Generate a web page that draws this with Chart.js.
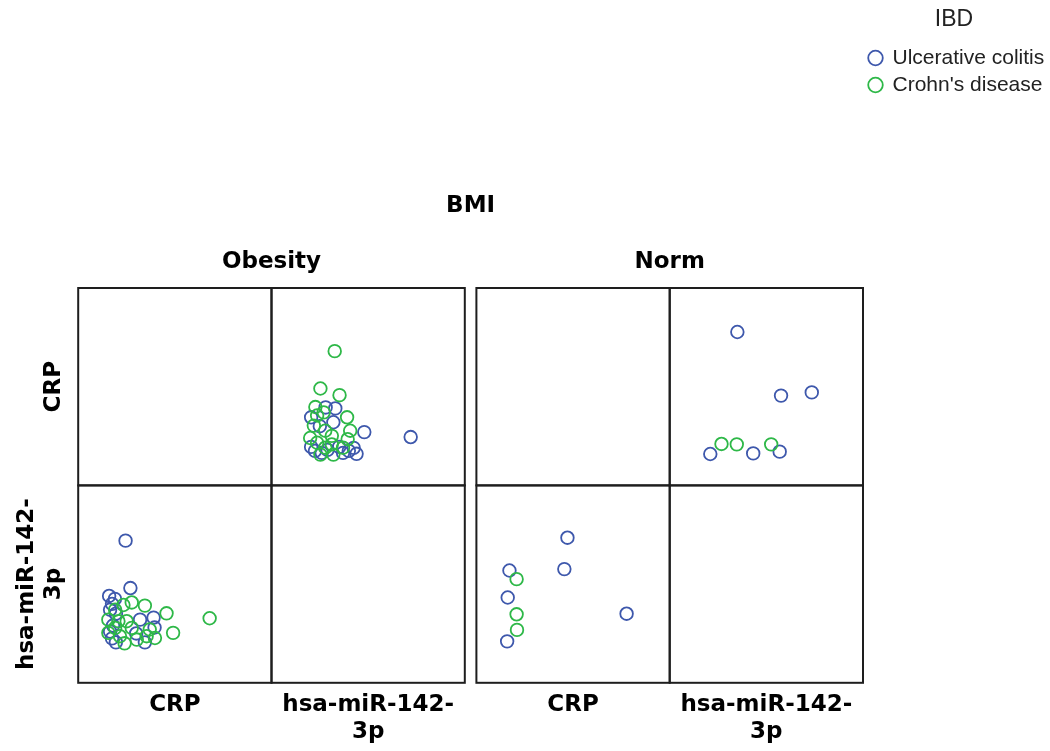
<!DOCTYPE html>
<html>
<head>
    <title>CRP and hsa-miR-142-3p by BMI and IBD</title>
    <script src="https://cdn.jsdelivr.net/npm/chart.js"></script>
    <style>
        body { margin: 0; background: #fff; }
        #wrap { width: 1050px; height: 751px; }
    </style>
</head>
<body>
    <div id="wrap"><canvas id="splomChart"></canvas></div>

    <script>
        // no tick values on the original, so values are positions along each axis (0-100)
        const ibdGroups = ['Ulcerative colitis', "Crohn's disease"];
        const bmiGroups = ['Obesity', 'Norm'];
        const variables = ['CRP', 'hsa-miR-142-3p'];

        const obesityUcCrp = [24.5, 27, 16, 17.5, 19, 32, 39, 39.5, 18, 17.5, 19.5, 34.5, 30, 16.5, 19.5, 16.5];
        const obesityUcMir = [72, 48, 44, 40, 42.5, 32, 33, 28, 29, 22.5, 20.5, 20.5, 25, 26, 35, 37];
        const obesityCdCrp = [68, 45.7, 34.5, 27.7, 23.4, 19.1, 15.6, 20.8, 25.1, 19.1, 27.7, 15.6, 21.6, 49.1, 30.3, 35.4, 39.7, 24, 37];
        const obesityCdMir = [32.7, 35.2, 39.1, 40.7, 39.4, 37, 32, 31.2, 31.2, 27.8, 27.8, 25.3, 23.6, 25.3, 21.9, 23.6, 22.7, 20, 27];
        const normUcCrp = [77.7, 45.5, 47.1, 15.9, 16.2, 17.1];
        const normUcMir = [35, 57.6, 73.5, 21, 43.2, 56.9];
        const normCdCrp = [21, 20.8, 20.8];
        const normCdMir = [26.8, 34.7, 52.5];

        const ibdColors = { 'Ulcerative colitis': '#3E58AC', "Crohn's disease": '#2EB848' };
        const titleFont = { family: 'DejaVu Sans', size: 23, weight: 'bold' };

        // green groups first so they are painted over the blue ones
        const groups = [
            { bmi: 'Obesity', ibd: "Crohn's disease", crp: obesityCdCrp, mir: obesityCdMir },
            { bmi: 'Norm', ibd: "Crohn's disease", crp: normCdCrp, mir: normCdMir },
            { bmi: 'Obesity', ibd: 'Ulcerative colitis', crp: obesityUcCrp, mir: obesityUcMir },
            { bmi: 'Norm', ibd: 'Ulcerative colitis', crp: normUcCrp, mir: normUcMir }
        ];

        const xAxisFor = {
            Obesity: { crp: 'xObCrp', mir: 'xObMir' },
            Norm: { crp: 'xNoCrp', mir: 'xNoMir' }
        };

        function pairs(xs, ys) {
            return xs.map((v, i) => ({ x: v, y: ys[i] }));
        }

        function pointSet(g, xId, yId, data) {
            return {
                label: g.ibd,
                data: data,
                xAxisID: xId,
                yAxisID: yId,
                pointStyle: 'circle',
                pointRadius: 6.3,
                pointHoverRadius: 6.3,
                borderWidth: 1.8,
                borderColor: ibdColors[g.ibd],
                backgroundColor: 'transparent',
                showLine: false
            };
        }

        const datasets = [];
        groups.forEach(g => {
            // upper right cell: x = hsa-miR-142-3p, y = CRP
            datasets.push(pointSet(g, xAxisFor[g.bmi].mir, 'yCrp', pairs(g.mir, g.crp)));
            // lower left cell: x = CRP, y = hsa-miR-142-3p
            datasets.push(pointSet(g, xAxisFor[g.bmi].crp, 'yMir', pairs(g.crp, g.mir)));
        });

        function wrapLabel(label) {
            const cut = label.lastIndexOf('-');
            return label.length > 10 ? [label.slice(0, cut + 1), label.slice(cut + 1)] : [label];
        }

        function axis(position, stack, weight, stackWeight, text, padding) {
            return {
                type: 'linear',
                axis: (position === 'left') ? 'y' : 'x',
                position: position,
                stack: stack,
                weight: weight,
                stackWeight: stackWeight,
                min: 0,
                max: 100,
                ticks: { display: false },
                grid: { display: false, drawTicks: false },
                border: { display: false },
                title: text ? { display: true, text: text, color: '#000', font: titleFont, padding: padding } : { display: false }
            };
        }

        const gapWeight = 0.06;
        const crpLines = wrapLabel(variables[0]);
        const mirLines = wrapLabel(variables[1]);

        const scales = {
            xTopOb: axis('top', 'top', 3, 2, bmiGroups[0], { top: 4, bottom: 12 }),
            xTopGap: axis('top', 'top', 2, gapWeight),
            xTopNo: axis('top', 'top', 1, 2, bmiGroups[1], { top: 4, bottom: 12 }),
            xObCrp: axis('bottom', 'bottom', 1, 1, crpLines, { top: 8, bottom: 27.6 }),
            xObMir: axis('bottom', 'bottom', 2, 1, mirLines, { top: 8, bottom: 0 }),
            xBotGap: axis('bottom', 'bottom', 3, gapWeight),
            xNoCrp: axis('bottom', 'bottom', 4, 1, crpLines, { top: 8, bottom: 27.6 }),
            xNoMir: axis('bottom', 'bottom', 5, 1, mirLines, { top: 8, bottom: 0 }),
            yCrp: axis('left', 'left', 2, 1, crpLines, { top: 40.6, bottom: 10 }),
            yMir: axis('left', 'left', 1, 1, mirLines, { top: 13, bottom: 10 })
        };

        // draw the frame of every cell of the matrix from the scale boundaries
        const cellFrames = {
            id: 'cellFrames',
            afterDatasetsDraw(chart) {
                const ctx = chart.ctx;
                ctx.save();
                ctx.strokeStyle = '#1e1e1e';
                ctx.lineWidth = 2;
                ['xObCrp', 'xObMir', 'xNoCrp', 'xNoMir'].forEach(xId => {
                    ['yCrp', 'yMir'].forEach(yId => {
                        const xs = chart.scales[xId];
                        const ys = chart.scales[yId];
                        ctx.strokeRect(xs.left, ys.top, xs.right - xs.left, ys.bottom - ys.top);
                    });
                });
                ctx.restore();
            }
        };

        const splomChart = new Chart(document.getElementById('splomChart'), {
            type: 'scatter',
            data: { datasets: datasets },
            options: {
                responsive: true,
                maintainAspectRatio: false,
                animation: false,
                layout: { padding: { top: 0, right: 5, bottom: 5, left: 0 } },
                scales: scales,
                plugins: {
                    tooltip: { enabled: false },
                    title: {
                        display: true,
                        text: 'BMI',
                        fullSize: false,
                        color: '#000',
                        font: titleFont,
                        padding: { top: 192, bottom: 24.8 }
                    },
                    legend: {
                        position: 'right',
                        align: 'start',
                        maxWidth: 182,
                        title: {
                            display: true,
                            text: 'IBD',
                            position: 'center',
                            color: '#222',
                            font: { family: 'Liberation Sans', size: 23 },
                            padding: { top: 8.5, bottom: 5.4 }
                        },
                        labels: {
                            usePointStyle: true,
                            boxWidth: 13,
                            boxHeight: 10.3,
                            padding: 6,
                            color: '#222',
                            font: { family: 'Liberation Sans', size: 21 },
                            filter: (item, data) => data.datasets.findIndex(d => d.label === item.text) === item.datasetIndex,
                            sort: (a, b) => ibdGroups.indexOf(a.text) - ibdGroups.indexOf(b.text)
                        }
                    }
                }
            },
            plugins: [cellFrames]
        });
    </script>
</body>
</html>
